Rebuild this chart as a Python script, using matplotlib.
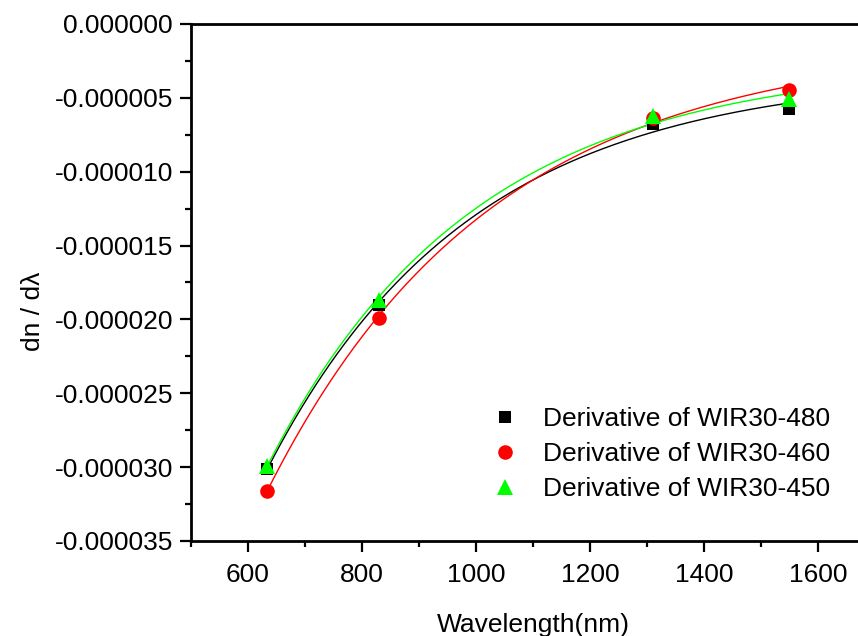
import numpy as np
import matplotlib
matplotlib.use("Agg")
import matplotlib.pyplot as plt
from matplotlib.ticker import MultipleLocator, FuncFormatter

plt.rcParams['font.family'] = ['Liberation Sans', 'DejaVu Sans']
plt.rcParams['font.size'] = 19

# data
wavelength = [633, 830, 1310, 1550]
d480 = [-30.1e-6, -19.05e-6, -6.75e-6, -5.75e-6]
d460 = [-31.6e-6, -19.9e-6, -6.35e-6, -4.46e-6]
d450 = [-29.9e-6, -18.7e-6, -6.2e-6, -5.1e-6]
labels = ['Derivative of WIR30-480', 'Derivative of WIR30-460', 'Derivative of WIR30-450']
colors = ['black', 'red', '#00ff00']
markers = ['s', 'o', '^']
msizes = [9, 10.5, 11]


def expfit(x, y):
    # y = y0 + A*exp(-x/t), t by grid search, y0 and A by least squares
    x = np.asarray(x, float)
    y = np.asarray(y, float)
    best = None
    for t in np.linspace(100, 3000, 2901):
        M = np.column_stack([np.ones_like(x), np.exp(-x / t)])
        coef, res, *_ = np.linalg.lstsq(M, y, rcond=None)
        err = np.sum((M @ coef - y) ** 2)
        if best is None or err < best[0]:
            best = (err, t, coef)
    _, t, coef = best
    return lambda xx: coef[0] + coef[1] * np.exp(-xx / t)


fig = plt.figure(figsize=(8.58, 6.36), dpi=100)
ax = fig.add_axes([0.2226, 0.1494, 0.7972, 0.8129])

xs = np.linspace(wavelength[0], wavelength[-1], 300)
handles = []
for y, c, m, ms, lab in zip([d480, d460, d450], colors, markers, msizes, labels):
    f = expfit(wavelength, y)
    ax.plot(xs, f(xs), color=c, lw=1.0, zorder=2)
    h, = ax.plot(wavelength, y, ls='none', marker=m, ms=ms, color=c,
                 markeredgewidth=0, label=lab, zorder=3)
    handles.append(h)

ax.set_xlim(500, 1700)
ax.set_ylim(-35e-6, 0)
ax.xaxis.set_major_locator(MultipleLocator(200))
ax.xaxis.set_minor_locator(MultipleLocator(100))
ax.yaxis.set_major_locator(MultipleLocator(5e-6))
ax.yaxis.set_minor_locator(MultipleLocator(2.5e-6))
ax.yaxis.set_major_formatter(FuncFormatter(lambda v, p: '%.6f' % (v + 0.0 if abs(v) > 1e-12 else 0.0)))

for s in ax.spines.values():
    s.set_linewidth(2)
ax.tick_params(which='major', direction='out', length=8, width=1.6)
ax.tick_params(which='minor', direction='out', length=4, width=1.6)
ax.tick_params(axis='x', which='major', pad=8)
ax.tick_params(axis='y', which='major', pad=5)

ax.set_xlabel('Wavelength(nm)')
ax.set_ylabel('dn / dλ')
ax.xaxis.set_label_coords(0.5, -0.139)
ax.yaxis.set_label_coords(-0.213, 0.445)

fig.legend(handles=handles, loc='upper left', bbox_to_anchor=(0.558, 0.381),
           frameon=False, borderpad=0, handlelength=1.0, handletextpad=0.95,
           labelspacing=0.42, fontsize=19)

fig.savefig('out.png', dpi=100)
